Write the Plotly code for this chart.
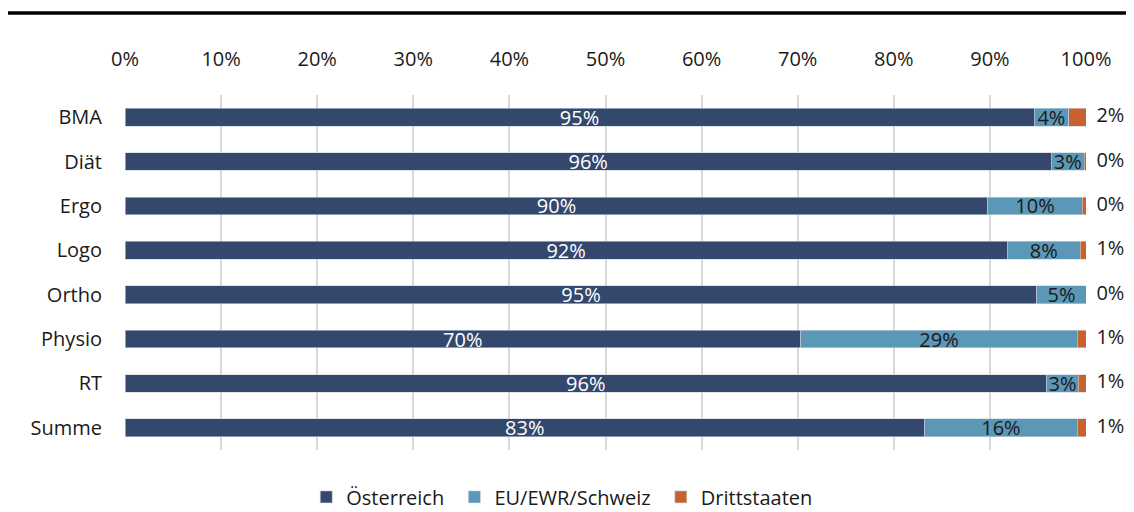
import plotly.graph_objects as go

# ================= DATA =================
categories = ["BMA", "Diät", "Ergo", "Logo", "Ortho", "Physio", "RT", "Summe"]
oesterreich = [94.6, 96.4, 89.8, 91.8, 94.9, 70.3, 95.9, 83.2]
eu_ewr_ch = [3.6, 3.4, 9.8, 7.6, 5.1, 28.8, 3.3, 15.9]
drittstaaten = [1.8, 0.2, 0.4, 0.6, 0.0, 0.9, 0.8, 0.9]
tick_vals = [0, 10, 20, 30, 40, 50, 60, 70, 80, 90, 100]
tick_text = [f"{v}%" for v in tick_vals]

navy = "#34476d"
teal = "#5b97b6"
orange = "#c7622f"
font_family = "Open Sans, Noto Sans, sans-serif"
fs = 20

# bar ends (rounded so 100.00000001 does not fall outside the axis range)
totals = [round(a + b + c, 6) for a, b, c in zip(oesterreich, eu_ewr_ch, drittstaaten)]
edge = dict(color="#c9d3e0", width=0.6)

fig = go.Figure()

# ================= BARS =================
fig.add_trace(go.Bar(
    y=categories, x=oesterreich, orientation="h", name="Österreich ",
    marker=dict(color=navy, line=edge),
    texttemplate="%{x:.0f}%", textposition="inside", insidetextanchor="middle",
    textfont=dict(color="white", size=fs), hoverinfo="skip",
))
fig.add_trace(go.Bar(
    y=categories, x=eu_ewr_ch, orientation="h", name="EU/EWR/Schweiz ",
    marker=dict(color=teal, line=edge),
    texttemplate="%{x:.0f}%", textposition="inside", insidetextanchor="middle",
    textfont=dict(color="#1a1a1a", size=fs), hoverinfo="skip",
))
fig.add_trace(go.Bar(
    y=categories, x=drittstaaten, orientation="h", name="Drittstaaten",
    marker=dict(color=orange, line=edge), hoverinfo="skip",
))

# labels for Drittstaaten, right of the bar end
fig.add_trace(go.Scatter(
    y=categories, x=totals, mode="text", showlegend=False,
    text=[f"  {v:.0f}%" for v in drittstaaten], textposition="middle right",
    textfont=dict(color="#1a1a1a", size=fs), cliponaxis=False, hoverinfo="skip",
))

# ================= LAYOUT =================
fig.update_layout(
    width=1126, height=504,
    margin=dict(l=117, r=48, t=87, b=62, autoexpand=False),
    barmode="stack", bargap=0.6,
    plot_bgcolor="white", paper_bgcolor="white",
    font=dict(family=font_family, size=fs, color="#1a1a1a"),
    showlegend=True,
    legend=dict(orientation="h", x=0.455, xanchor="center",
                yref="container", y=0.03, yanchor="middle",
                font=dict(size=fs), itemwidth=30, traceorder="normal"),
    shapes=[dict(type="line", xref="paper", yref="paper",
                 x0=-0.13, x1=1.06, y0=1.231, y1=1.231,
                 line=dict(color="black", width=3.5))],
)
fig.update_traces(constraintext="none", selector=dict(type="bar"))

fig.update_xaxes(
    side="top", range=[0, 100], tickmode="array", tickvals=tick_vals, ticktext=tick_text,
    showgrid=True, gridcolor="#d9d9d9", gridwidth=1.5, zeroline=False,
    showline=False, ticks="", ticklabelstandoff=24, fixedrange=True,
)
fig.update_yaxes(
    autorange="reversed", showgrid=False, showline=False, ticks="",
    ticklabelstandoff=22, fixedrange=True,
)

fig.write_html("out.html")
